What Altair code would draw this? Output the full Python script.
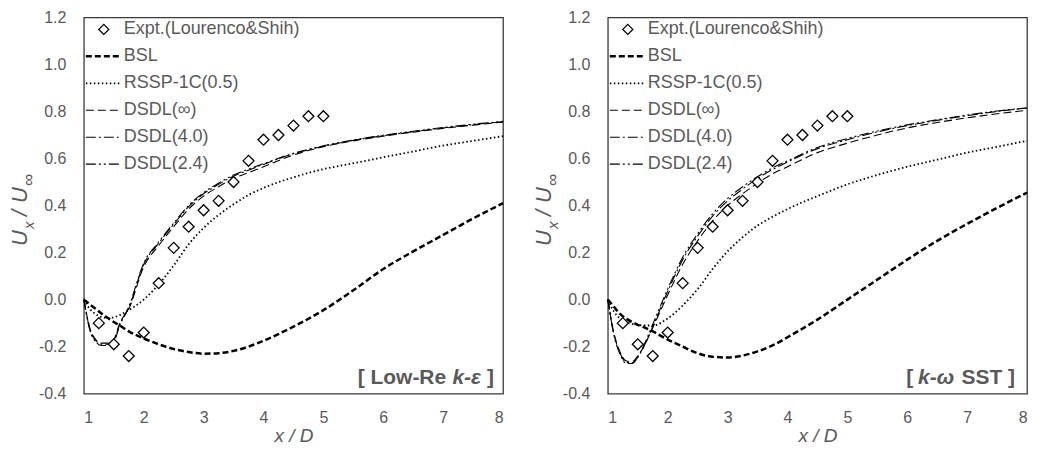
import altair as alt
import pandas as pd

# ---------------- data ----------------
series = ["Expt.(Lourenco&Shih)", "BSL", "RSSP-1C(0.5)", "DSDL(∞)", "DSDL(4.0)", "DSDL(2.4)"]

expt_x = [1.25, 1.5, 1.75, 2.0, 2.25, 2.5, 2.75, 3.0, 3.25, 3.5, 3.75, 4.0, 4.25, 4.5, 4.75, 5.0]
expt_y = [-0.10, -0.19, -0.24, -0.14, 0.07, 0.22, 0.31, 0.38, 0.42, 0.50, 0.59, 0.68, 0.70, 0.74, 0.78, 0.78]

xs = [1.0, 1.1, 1.2, 1.3, 1.4, 1.5, 1.6, 1.75, 2.0, 2.25, 2.5, 2.75, 3.0, 3.25, 3.5, 3.75,
      4.0, 4.5, 5.0, 5.5, 6.0, 6.5, 7.0, 7.5, 8.0]

# Low-Re k-epsilon panel
bsl_l = [0.0, -0.02, -0.04, -0.06, -0.078, -0.095, -0.11, -0.135, -0.165, -0.19, -0.21, -0.223, -0.23,
         -0.228, -0.218, -0.2, -0.175, -0.115, -0.045, 0.04, 0.13, 0.205, 0.275, 0.345, 0.41]
rssp_l = [0.0, -0.04, -0.062, -0.075, -0.078, -0.075, -0.066, -0.045, 0.0, 0.065, 0.145, 0.235, 0.305,
          0.36, 0.405, 0.445, 0.475, 0.52, 0.555, 0.58, 0.605, 0.63, 0.655, 0.675, 0.695]
dinf_l = [0.0, -0.12, -0.17, -0.185, -0.185, -0.17, -0.10, -0.04, 0.14, 0.23, 0.31, 0.385, 0.44,
          0.48, 0.515, 0.54, 0.565, 0.615, 0.65, 0.675, 0.695, 0.712, 0.728, 0.742, 0.755]
d40_l = [0.0, -0.125, -0.175, -0.19, -0.19, -0.175, -0.105, -0.035, 0.15, 0.24, 0.32, 0.395, 0.45,
         0.49, 0.525, 0.55, 0.575, 0.62, 0.652, 0.677, 0.697, 0.714, 0.73, 0.744, 0.757]
d24_l = [0.0, -0.13, -0.18, -0.195, -0.195, -0.18, -0.11, -0.03, 0.155, 0.245, 0.325, 0.4, 0.455,
         0.495, 0.53, 0.555, 0.578, 0.622, 0.654, 0.679, 0.699, 0.716, 0.732, 0.746, 0.758]

# k-omega SST panel
bsl_r = [0.0, -0.03, -0.06, -0.08, -0.095, -0.107, -0.117, -0.135, -0.17, -0.2, -0.228, -0.243, -0.246,
         -0.238, -0.22, -0.195, -0.16, -0.085, 0.0, 0.085, 0.17, 0.25, 0.322, 0.39, 0.455]
rssp_r = [0.0, -0.05, -0.08, -0.095, -0.103, -0.107, -0.11, -0.11, -0.08, -0.025, 0.045, 0.13, 0.205,
          0.265, 0.315, 0.352, 0.385, 0.44, 0.49, 0.53, 0.565, 0.595, 0.625, 0.65, 0.675]
dinf_r = [0.0, -0.14, -0.22, -0.26, -0.265, -0.24, -0.2, -0.12, 0.02, 0.15, 0.25, 0.335, 0.4,
          0.45, 0.495, 0.535, 0.565, 0.625, 0.665, 0.7, 0.73, 0.753, 0.773, 0.79, 0.805]
d40_r = [0.0, -0.145, -0.225, -0.265, -0.27, -0.245, -0.2, -0.115, 0.035, 0.17, 0.27, 0.355, 0.42,
         0.47, 0.515, 0.553, 0.585, 0.642, 0.68, 0.713, 0.74, 0.762, 0.782, 0.8, 0.815]
d24_r = [0.0, -0.15, -0.23, -0.27, -0.272, -0.245, -0.195, -0.105, 0.045, 0.18, 0.28, 0.365, 0.43,
         0.48, 0.523, 0.56, 0.59, 0.647, 0.685, 0.717, 0.743, 0.765, 0.785, 0.802, 0.815]

x_ticks = [1, 2, 3, 4, 5, 6, 7, 8]
y_ticks = [-0.4, -0.2, 0.0, 0.2, 0.4, 0.6, 0.8, 1.0, 1.2]

# ---------------- styles ----------------
dashes = [[1, 0], [6, 3], [1.5, 2.5], [8, 4], [10, 3, 2, 3], [10, 3, 2, 3, 2, 3]]
widths = [1.3, 2.5, 1.8, 1.1, 1.1, 1.1]

GRAY = "#595959"
FONT = "Liberation Sans"
W, H = 420, 377

YLABEL = "datum.value < 0 ? '-' + format(-datum.value, '.1f') : format(datum.value, '.1f')"

dash_enc = alt.StrokeDash("series:N", scale=alt.Scale(domain=series, range=dashes), legend=None)
width_enc = alt.StrokeWidth("series:N", scale=alt.Scale(type="ordinal", domain=series, range=widths),
                            legend=None)
leg_y = alt.Y("series:N", scale=alt.Scale(type="point", domain=series, range=[12, 147], padding=0),
              axis=None)


def panel(curves, tag_parts):
    rows = []
    for name, ys in zip(series[1:], curves):
        for x, y in zip(xs, ys):
            rows.append({"x": x, "y": y, "series": name})
    lines_df = pd.DataFrame(rows)
    expt_df = pd.DataFrame({"x": expt_x, "y": expt_y, "series": series[0]})

    xenc = alt.X("x:Q", scale=alt.Scale(domain=[1, 8], nice=False, zero=False),
                 axis=alt.Axis(values=x_ticks, format="d", title="x / D", grid=False, ticks=False,
                               domain=False, tickSize=0, labelPadding=16, titlePadding=1,
                               labelFont=FONT, labelFontSize=16, labelColor=GRAY,
                               titleFont=FONT, titleFontSize=19, titleFontStyle="italic",
                               titleFontWeight="normal", titleColor=GRAY))
    yenc = alt.Y("y:Q", scale=alt.Scale(domain=[-0.4, 1.2], nice=False, zero=False),
                 axis=alt.Axis(values=y_ticks, labelExpr=YLABEL, title=None, grid=False, ticks=False,
                               domain=False, tickSize=0, labelPadding=18,
                               labelFont=FONT, labelFontSize=16, labelColor=GRAY))

    lines = alt.Chart(lines_df).mark_line(color="black", interpolate="monotone").encode(
        x=xenc, y=yenc, strokeDash=dash_enc, strokeWidth=width_enc)
    points = alt.Chart(expt_df).mark_point(shape="diamond", size=120, filled=False, color="black",
                                           fill="white", opacity=1, strokeWidth=1.3).encode(
        x=xenc, y=yenc)
    data_layer = alt.layer(lines, points)

    # legend keys (inside the plot, top-left), rows placed by a point scale
    leg_df = pd.DataFrame({"series": series})
    leg_lines = alt.Chart(leg_df.iloc[1:]).mark_rule(color="black").encode(
        x=alt.value(2), x2=alt.value(38), y=leg_y, strokeDash=dash_enc, strokeWidth=width_enc)
    leg_pt = alt.Chart(leg_df.iloc[:1]).mark_point(shape="diamond", size=100, filled=False, color="black",
                                                   fill="white", opacity=1, strokeWidth=1.3).encode(
        x=alt.value(20), y=leg_y)
    leg_txt = alt.Chart(leg_df).mark_text(align="left", baseline="middle", font=FONT, fontSize=18,
                                          color=GRAY).encode(
        x=alt.value(40), y=leg_y, text="series:N")
    legend_layer = alt.layer(leg_lines, leg_pt, leg_txt)

    layers = [data_layer, legend_layer]
    # panel tag  "[ ... ]" (mixed bold / bold-italic pieces, right aligned)
    for txt, style, xr in tag_parts:
        layers.append(
            alt.Chart(pd.DataFrame({"t": [txt]})).mark_text(
                align="right", baseline="alphabetic", font=FONT, fontSize=21, fontWeight="bold",
                fontStyle=style, color=GRAY
            ).encode(text="t:N", x=alt.value(xr), y=alt.value(367))
        )
    # y-axis title  U_x / U_inf  (rotated, with subscripts)
    ytitle = [("U", 22, -57, 229), ("x", 15, -50, 212), ("/", 22, -57, 199),
              ("U", 22, -57, 186), ("∞", 17, -50, 169)]
    for txt, fs, xb, ys in ytitle:
        layers.append(
            alt.Chart(pd.DataFrame({"t": [txt]})).mark_text(
                align="left", baseline="alphabetic", angle=270, font=FONT, fontSize=fs,
                fontStyle="italic", color=GRAY
            ).encode(text="t:N", x=alt.value(xb), y=alt.value(ys))
        )
    return alt.layer(*layers).properties(width=W, height=H).resolve_scale(y="independent")


left = panel([bsl_l, rssp_l, dinf_l, d40_l, d24_l],
             [("[ Low-Re", "normal", 363), ("k-ε", "italic", 398), ("]", "normal", 411)])
right = panel([bsl_r, rssp_r, dinf_r, d40_r, d24_r],
              [("[", "normal", 306), ("k-ω", "italic", 347), ("SST ]", "normal", 408)])

chart = alt.hconcat(left, right, spacing=23).properties(
    padding={"left": 0, "top": 0, "right": 0, "bottom": 0}
).configure_view(
    stroke="#3a3a3a", strokeWidth=1.3
)

chart.save("out.html", embed_options={"renderer": "svg", "actions": False})
